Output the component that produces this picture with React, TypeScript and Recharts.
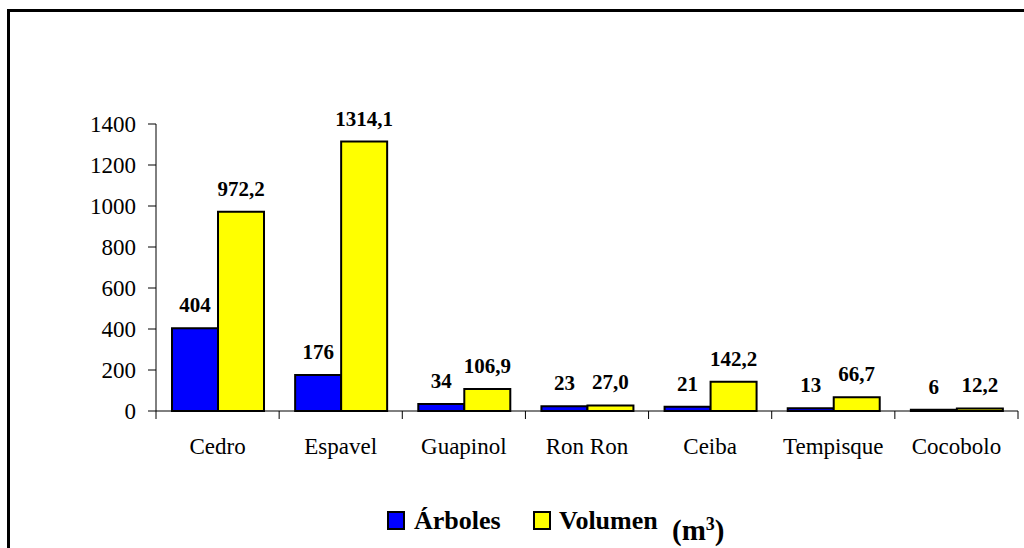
import React from 'react';
import { BarChart, Bar, XAxis, YAxis, LabelList } from 'recharts';

const categories = ['Cedro', 'Espavel', 'Guapinol', 'Ron Ron', 'Ceiba', 'Tempisque', 'Cocobolo'];
const arboles = [404, 176, 34, 23, 21, 13, 6];
const volumen = [972.2, 1314.1, 106.9, 27.0, 142.2, 66.7, 12.2];
const yTicks = [0, 200, 400, 600, 800, 1000, 1200, 1400];
const seriesNames = ['Árboles', 'Volumen'];
const seriesColors = ['#0000FF', '#FFFF00'];

const data = categories.map((c, i) => ({ name: c, arboles: arboles[i], volumen: volumen[i] }));

const W = 1024;
const H = 548;
const M = { top: 124, right: 6, left: 0, bottom: 0 };
const Y_AXIS_W = 156;
const X_AXIS_H = 137;
const PLOT_LEFT = M.left + Y_AXIS_W;
const PLOT_RIGHT = W - M.right;
const PLOT_BOTTOM = H - M.bottom - X_AXIS_H;
const BAND = (PLOT_RIGHT - PLOT_LEFT) / categories.length;

const FONT = '"Liberation Serif", "Times New Roman", serif';

const XTick = (props: any) => {
  const { x, payload, index } = props;
  const left = x - BAND / 2;
  return (
    <g>
      <line x1={left} x2={left} y1={PLOT_BOTTOM} y2={PLOT_BOTTOM + 8} stroke="#000" strokeWidth={1} />
      {index === categories.length - 1 && (
        <line x1={x + BAND / 2} x2={x + BAND / 2} y1={PLOT_BOTTOM} y2={PLOT_BOTTOM + 8} stroke="#000" strokeWidth={1} />
      )}
      <text x={x} y={PLOT_BOTTOM + 43} textAnchor="middle" fontFamily={FONT} fontSize={23} fill="#000">
        {payload.value}
      </text>
    </g>
  );
};

const fmtVol = (v: any) => Number(v).toFixed(1).replace('.', ',');

export default function App() {
  return (
    <div style={{ position: 'absolute', left: 0, top: 0, width: W, height: H, overflow: 'hidden', background: '#fff' }}>
      <div
        style={{
          position: 'absolute',
          left: 7,
          top: 9,
          width: 1200,
          height: 800,
          border: '3px solid #000',
          boxSizing: 'border-box',
        }}
      />
      <div style={{ position: 'absolute', left: 0, top: 0 }}>
        <BarChart width={W} height={H} data={data} margin={M} barCategoryGap="13%" barGap={0}>
          <YAxis
            width={Y_AXIS_W}
            domain={[0, 1400]}
            ticks={yTicks}
            interval={0}
            tickSize={8}
            tickMargin={12}
            stroke="#000"
            tick={{ fill: '#000', fontFamily: FONT, fontSize: 23 }}
            axisLine={{ stroke: '#000' }}
            tickLine={{ stroke: '#000' }}
          />
          <XAxis
            dataKey="name"
            height={X_AXIS_H}
            interval={0}
            tickLine={false}
            axisLine={{ stroke: '#000' }}
            tick={<XTick />}
          />
          <Bar dataKey="arboles" name={seriesNames[0]} fill={seriesColors[0]} stroke="#000" strokeWidth={2} isAnimationActive={false}>
            <LabelList
              dataKey="arboles"
              position="top"
              offset={16}
              style={{ fontFamily: FONT, fontSize: 21, fontWeight: 'bold', fill: '#000' }}
            />
          </Bar>
          <Bar dataKey="volumen" name={seriesNames[1]} fill={seriesColors[1]} stroke="#000" strokeWidth={2} isAnimationActive={false}>
            <LabelList
              dataKey="volumen"
              position="top"
              offset={16}
              formatter={fmtVol}
              style={{ fontFamily: FONT, fontSize: 21, fontWeight: 'bold', fill: '#000' }}
            />
          </Bar>
        </BarChart>
      </div>
      <div style={{ position: 'absolute', left: 387, top: 511, fontFamily: FONT, fontWeight: 'bold', color: '#000' }}>
        <div style={{ position: 'absolute', left: 0, top: 0, width: 18, height: 19, background: seriesColors[0], border: '2px solid #000', boxSizing: 'border-box' }} />
        <div style={{ position: 'absolute', left: 27, top: -5, fontSize: 26, whiteSpace: 'nowrap', lineHeight: '30px' }}>{seriesNames[0]}</div>
        <div style={{ position: 'absolute', left: 146, top: 0, width: 18, height: 19, background: seriesColors[1], border: '2px solid #000', boxSizing: 'border-box' }} />
        <div style={{ position: 'absolute', left: 172, top: -5, fontSize: 26, whiteSpace: 'nowrap', lineHeight: '30px' }}>{seriesNames[1]}</div>
        <div style={{ position: 'absolute', left: 285, top: 3, fontSize: 29, whiteSpace: 'nowrap', lineHeight: '32px' }}>
          (m<sup style={{ fontSize: 18, verticalAlign: 'top', position: 'relative', top: -6 }}>3</sup>)
        </div>
      </div>
    </div>
  );
}
